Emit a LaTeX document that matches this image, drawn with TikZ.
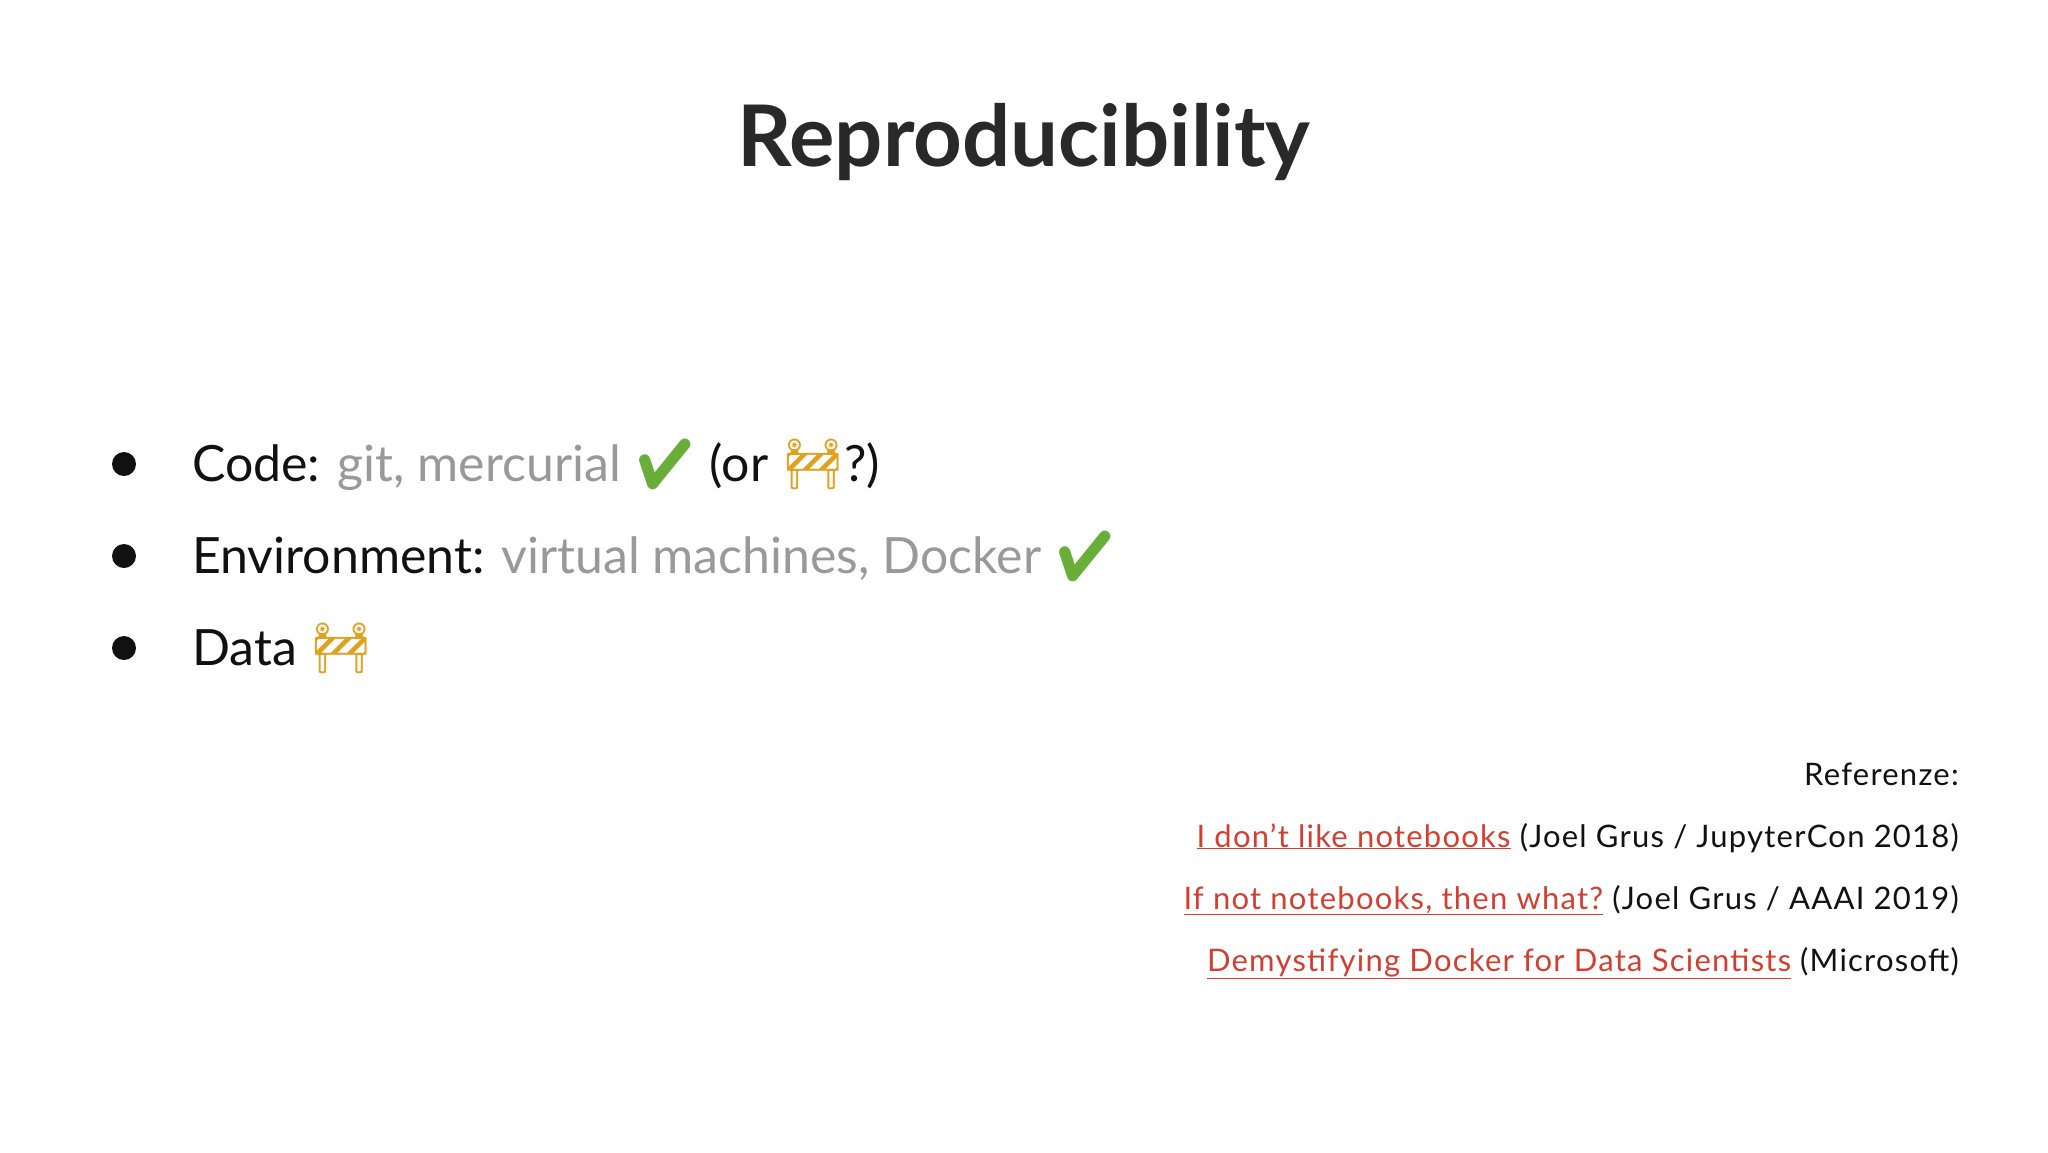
\documentclass[tikz,border=0pt]{standalone}
\usepackage{fontspec}
\setmainfont{Lato}
\newfontfamily\emo{Noto Emoji}
\newfontfamily\wide[LetterSpace=4]{Lato}
\definecolor{txt}{HTML}{111111}
\definecolor{gry}{HTML}{999999}
\definecolor{lnk}{HTML}{D23F31}
\definecolor{chk}{HTML}{6AAE3A}
\definecolor{cone}{HTML}{E0A020}
\newcommand{\chkmk}{{\color{chk}\emo ✔}}
\newcommand{\barr}{{\color{cone}\emo 🚧}}
\newcommand{\lk}[1]{{\color{lnk}\underline{#1}}}
\begin{document}
\begin{tikzpicture}[x=1pt,y=-1pt,
  bl/.style={anchor=base west,font=\fontsize{50}{60}\selectfont,text=txt,inner sep=0},
  rf/.style={anchor=base east,font=\wide\fontsize{31}{36}\selectfont,text=txt,inner sep=0}]
\useasboundingbox (0,0) rectangle (2048,1152);
\node[font=\fontsize{85}{100}\bfseries\selectfont,text=txt!90!white,anchor=base] (title) at (1024,166) {Reproducibility};
\foreach \y/\n in {464/a,556/b,648/c}{\fill[txt] (124,\y) circle (12) coordinate (d\n);}
\node[bl] (l1) at (192,481) {Code: \textcolor{gry}{git, mercurial} \chkmk{} (or \barr?)};
\node[bl] (l2) at (192,573) {Environment: \textcolor{gry}{virtual machines, Docker} \chkmk};
\node[bl] (l3) at (192,665) {Data \barr};
\node[rf] (r0) at (1959,785) {Referenze:};
\node[rf] (r1) at (1959,847) {\lk{I don’t like notebooks} (Joel Grus / JupyterCon 2018)};
\node[rf] (r2) at (1959,909) {\lk{If not notebooks, then what?} (Joel Grus / AAAI 2019)};
\node[rf] (r3) at (1959,971) {\lk{Demystifying Docker for Data Scientists} (Microsoft)};
\end{tikzpicture}
\end{document}
